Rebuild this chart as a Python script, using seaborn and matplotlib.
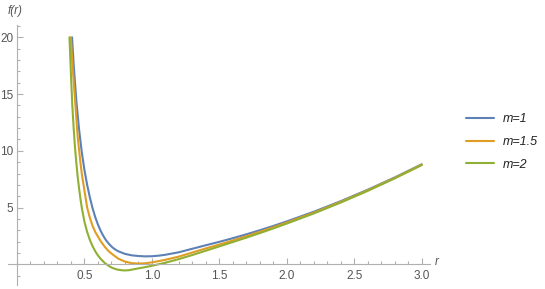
import numpy as np
import pandas as pd
import matplotlib
matplotlib.use("Agg")
import matplotlib.pyplot as plt
from matplotlib.ticker import MultipleLocator
import seaborn as sns

# values
r_m1 = [0.408, 0.42, 0.44, 0.46, 0.48, 0.50, 0.52, 0.54, 0.56, 0.58, 0.60, 0.62, 0.64, 0.66,
        0.68, 0.70, 0.72, 0.75, 0.80, 0.85, 0.90, 0.95, 1.00, 1.05, 1.10, 1.20, 1.30, 1.40,
        1.50, 1.60, 1.70, 1.80, 1.90, 2.00, 2.20, 2.40, 2.60, 2.80, 3.00]
f_m1 = [20.0, 17.6, 14.4, 11.9, 9.9, 8.3, 7.0, 5.9, 4.95, 4.15, 3.5, 2.95, 2.5, 2.12,
        1.82, 1.57, 1.37, 1.15, 0.92, 0.79, 0.73, 0.70, 0.71, 0.76, 0.84, 1.06, 1.37, 1.68,
        1.98, 2.30, 2.64, 3.00, 3.38, 3.78, 4.63, 5.56, 6.57, 7.65, 8.81]

r_m15 = [0.399, 0.41, 0.43, 0.45, 0.47, 0.48, 0.50, 0.52, 0.54, 0.56, 0.58, 0.60, 0.62, 0.65,
         0.68, 0.70, 0.72, 0.75, 0.80, 0.85, 0.90, 0.95, 1.00, 1.05, 1.10, 1.20, 1.30, 1.40,
         1.50, 1.60, 1.70, 1.80, 1.90, 2.00, 2.20, 2.40, 2.60, 2.80, 3.00]
f_m15 = [20.0, 17.8, 14.5, 11.2, 9.0, 8.0, 6.5, 5.0, 4.1, 3.4, 2.85, 2.45, 2.05, 1.55,
         1.15, 0.95, 0.77, 0.50, 0.24, 0.10, 0.06, 0.09, 0.17, 0.28, 0.40, 0.68, 1.04, 1.40,
         1.74, 2.10, 2.47, 2.86, 3.26, 3.68, 4.55, 5.50, 6.52, 7.61, 8.78]

r_m2 = [0.389, 0.40, 0.41, 0.42, 0.43, 0.44, 0.45, 0.46, 0.47, 0.48, 0.50, 0.52, 0.54, 0.56,
        0.58, 0.60, 0.62, 0.65, 0.68, 0.70, 0.72, 0.75, 0.78, 0.80, 0.83, 0.86, 0.90, 0.95,
        1.00, 1.10, 1.20, 1.30, 1.40, 1.50, 1.60, 1.70, 1.80, 1.90, 2.00, 2.20, 2.40, 2.60,
        2.80, 3.00]
f_m2 = [20.0, 16.7, 14.0, 12.0, 10.3, 8.9, 7.7, 6.7, 5.8, 5.0, 3.75, 2.85, 2.15, 1.6,
        1.15, 0.78, 0.48, 0.12, -0.14, -0.28, -0.38, -0.48, -0.53, -0.54, -0.52, -0.45, -0.36, -0.25,
        -0.13, 0.14, 0.46, 0.82, 1.20, 1.58, 1.96, 2.35, 2.75, 3.16, 3.59, 4.48, 5.44, 6.47,
        7.57, 8.74]

labels = ["m=1", "m=1.5", "m=2"]
colors = ["#5E81B5", "#E19C24", "#8FB032"]

df = pd.concat([
    pd.DataFrame({"r": r_m1, "f": f_m1, "m": labels[0]}),
    pd.DataFrame({"r": r_m15, "f": f_m15, "m": labels[1]}),
    pd.DataFrame({"r": r_m2, "f": f_m2, "m": labels[2]}),
], ignore_index=True)

sns.set_style("white")
plt.rcParams['font.family'] = ['Liberation Sans', 'DejaVu Sans']

W, H = 545, 289
fig = plt.figure(figsize=(W / 100, H / 100), dpi=100)

# axes box in pixels: x from -0.07 .. 3.06, y from -1.8 .. 21.1
px_per_x = 134.9
px_per_y = 11.35
x0_px, y0_px = 17.0, 264.3
xmin, xmax = -0.07, 3.06
ymin, ymax = -1.8, 21.1
left = (x0_px + xmin * px_per_x) / W
width = (xmax - xmin) * px_per_x / W
bottom = (H - (y0_px - ymin * px_per_y)) / H
height = (ymax - ymin) * px_per_y / H
ax = fig.add_axes([left, bottom, width, height])

sns.lineplot(data=df, x="r", y="f", hue="m", palette=colors, sort=False,
             estimator=None, linewidth=1.5, ax=ax)

ax.set_xlim(xmin, xmax)
ax.set_ylim(ymin, ymax)

for s in ["top", "right"]:
    ax.spines[s].set_visible(False)
ax.spines["left"].set_position(("data", 0))
ax.spines["bottom"].set_position(("data", 0))
for s in ["left", "bottom"]:
    ax.spines[s].set_color("#b0b0b0")
    ax.spines[s].set_linewidth(0.8)

ax.set_xticks([0.5, 1.0, 1.5, 2.0, 2.5, 3.0])
ax.set_xticklabels(["0.5", "1.0", "1.5", "2.0", "2.5", "3.0"])
ax.xaxis.set_minor_locator(MultipleLocator(0.1))
ax.set_yticks([5, 10, 15, 20])
ax.set_yticklabels(["5", "10", "15", "20"])
ax.yaxis.set_minor_locator(MultipleLocator(1))
ax.tick_params(which="both", direction="in", color="#b0b0b0", width=0.8,
               labelcolor="#555555", labelsize=8.5)
ax.tick_params(which="major", length=4)
ax.tick_params(which="minor", length=2.3)
ax.tick_params(axis="x", which="both", bottom=True, pad=4)
ax.tick_params(axis="y", which="both", left=True, pad=2.5)

ax.set_xlabel("")
ax.set_ylabel("")
fig.text(8 / W, 1 - 11 / H, "f(r)", style="italic", color="#555555", fontsize=8.5,
         ha="left", va="center")
fig.text(435 / W, 1 - 262 / H, "r", style="italic", color="#555555", fontsize=8.5,
         ha="left", va="center")

handles, lbls = ax.get_legend_handles_labels()
leg = ax.legend(handles, lbls, loc="center left", bbox_to_anchor=(455 / W, 1 - 142 / H),
                bbox_transform=fig.transFigure, frameon=False, handlelength=2.2,
                handletextpad=0.7, labelspacing=0.85, fontsize=9)
for t in leg.get_texts():
    t.set_fontstyle("italic")
    t.set_color("#222222")

fig.savefig("out.png", dpi=100)
